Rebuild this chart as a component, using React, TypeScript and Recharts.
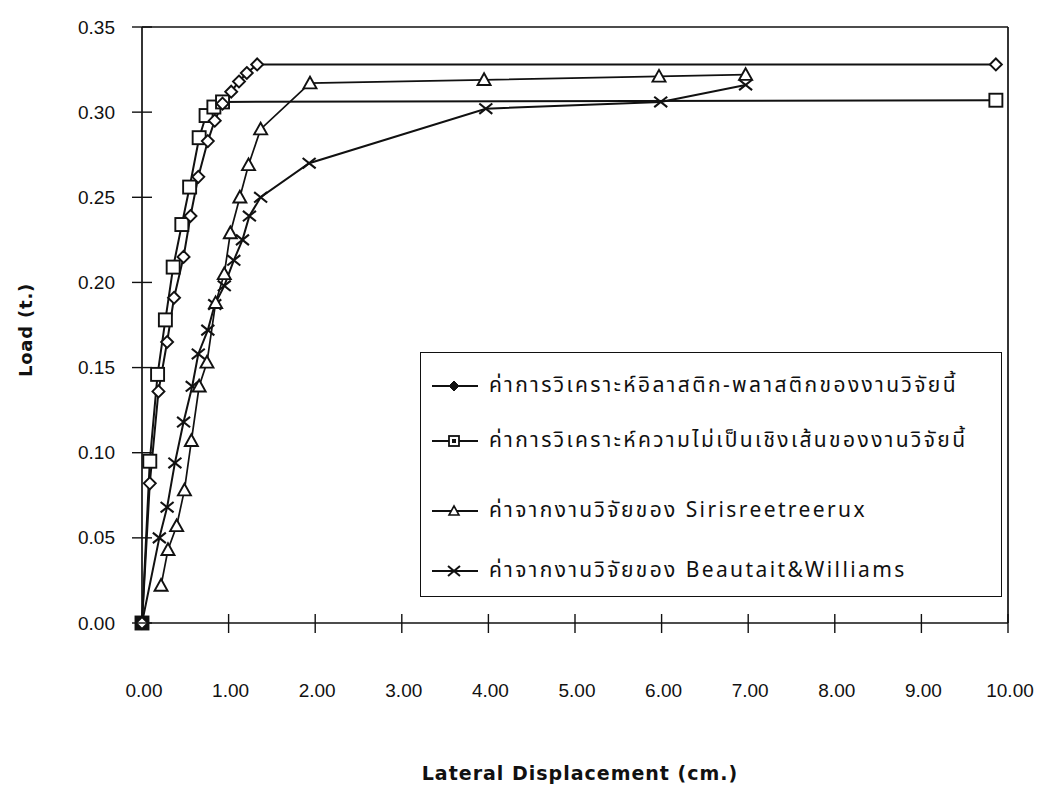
import React from 'react';
import { LineChart, Line, XAxis, YAxis, ReferenceLine, Legend, Label } from 'recharts';

// ---- data (Lateral displacement cm, Load t.) ----
const elasticPlasticX = [0, 0.09, 0.19, 0.29, 0.37, 0.48, 0.56, 0.65, 0.76, 0.84, 0.93, 1.03, 1.12, 1.21, 1.33, 9.86];
const elasticPlasticY = [0, 0.082, 0.136, 0.165, 0.191, 0.215, 0.239, 0.262, 0.283, 0.295, 0.305, 0.312, 0.318, 0.323, 0.328, 0.328];

const nonlinearX = [0, 0.09, 0.18, 0.27, 0.36, 0.46, 0.55, 0.66, 0.74, 0.83, 0.93, 9.86];
const nonlinearY = [0, 0.095, 0.146, 0.178, 0.209, 0.234, 0.256, 0.285, 0.298, 0.303, 0.306, 0.307];

const siriX = [0.22, 0.30, 0.40, 0.49, 0.57, 0.66, 0.75, 0.85, 0.95, 1.02, 1.13, 1.23, 1.37, 1.94, 3.95, 5.97, 6.97];
const siriY = [0.022, 0.043, 0.057, 0.078, 0.107, 0.139, 0.153, 0.188, 0.205, 0.229, 0.250, 0.269, 0.290, 0.317, 0.319, 0.321, 0.322];

const beauX = [0, 0.20, 0.29, 0.38, 0.48, 0.58, 0.65, 0.76, 0.84, 0.95, 1.06, 1.16, 1.24, 1.37, 1.93, 3.97, 5.99, 6.97];
const beauY = [0, 0.050, 0.068, 0.094, 0.118, 0.139, 0.158, 0.172, 0.187, 0.198, 0.213, 0.225, 0.239, 0.250, 0.270, 0.302, 0.306, 0.316];

const xTicks = [0, 1, 2, 3, 4, 5, 6, 7, 8, 9, 10];
const yTicks = [0, 0.05, 0.1, 0.15, 0.2, 0.25, 0.3, 0.35];

const seriesNames = [
  'ค่าการวิเคราะห์อิลาสติก-พลาสติกของงานวิจัยนี้',
  'ค่าการวิเคราะห์ความไม่เป็นเชิงเส้นของงานวิจัยนี้',
  'ค่าจากงานวิจัยของ Sirisreetreerux',
  'ค่าจากงานวิจัยของ Beautait&Williams',
];

const xTitle = 'Lateral Displacement (cm.)';
const yTitle = 'Load (t.)';

const toRows = (xs: number[], ys: number[]) => xs.map((x, i) => ({ x, y: ys[i] }));
const dataEP = toRows(elasticPlasticX, elasticPlasticY);
const dataNL = toRows(nonlinearX, nonlinearY);
const dataSR = toRows(siriX, siriY);
const dataBW = toRows(beauX, beauY);

const INK = '#111';
const LABEL_FONT = "'Liberation Sans', Arial, sans-serif";
const THAI_FONT = "'Noto Sans Thai', 'Noto Sans Thai Looped', 'Loma', 'Garuda', 'Noto Sans', 'DejaVu Sans', sans-serif";

// ---- marker shapes ----
const diamondPath = (cx: number, cy: number, r: number) => `M${cx},${cy - r}L${cx + r},${cy}L${cx},${cy + r}L${cx - r},${cy}Z`;
const trianglePath = (cx: number, cy: number, r: number) => `M${cx},${cy - r}L${cx + r},${cy + r * 0.8}L${cx - r},${cy + r * 0.8}Z`;

const DiamondDot = (p: any) => {
  const { cx, cy, index } = p;
  if (cx == null || cy == null) return <g key={`dd${index}`} />;
  return <path key={`dd${index}`} d={diamondPath(cx, cy, 6)} fill="#fff" stroke={INK} strokeWidth={1.9} />;
};
const SquareDot = (p: any) => {
  const { cx, cy, index } = p;
  if (cx == null || cy == null) return <g key={`sd${index}`} />;
  return <rect key={`sd${index}`} x={cx - 6.5} y={cy - 6.5} width={13} height={13} fill={index === 0 ? INK : '#fff'} stroke={INK} strokeWidth={1.9} />;
};
const TriangleDot = (p: any) => {
  const { cx, cy, index } = p;
  if (cx == null || cy == null) return <g key={`td${index}`} />;
  return <path key={`td${index}`} d={trianglePath(cx, cy, 6.5)} fill="#fff" stroke={INK} strokeWidth={1.9} />;
};
const CrossDot = (p: any) => {
  const { cx, cy, index } = p;
  if (cx == null || cy == null) return <g key={`xd${index}`} />;
  const r = 6.5;
  return (
    <g key={`xd${index}`}>
      <line x1={cx - r} y1={cy - r * 0.8} x2={cx + r} y2={cy + r * 0.8} stroke={INK} strokeWidth={2.1} />
      <line x1={cx - r} y1={cy + r * 0.8} x2={cx + r} y2={cy - r * 0.8} stroke={INK} strokeWidth={2.1} />
    </g>
  );
};

// ---- axis ticks (tick marks cross the axis) ----
const XTick = (p: any) => {
  const { x, y, payload } = p;
  return (
    <g>
      {payload.value !== 0 && <line x1={x} x2={x} y1={y - 9} y2={y + 10} stroke={INK} strokeWidth={1.4} />}
      <text x={x + 2} y={y + 67} textAnchor="middle" dominantBaseline="central" fontSize={19} fontFamily={LABEL_FONT} fill={INK}>
        {Number(payload.value).toFixed(2)}
      </text>
    </g>
  );
};
const YTick = (p: any) => {
  const { x, y, payload } = p;
  return (
    <g>
      <line x1={x - 10} x2={x + 10} y1={y} y2={y} stroke={INK} strokeWidth={1.4} />
      <text x={x - 27} y={y} textAnchor="end" dominantBaseline="central" fontSize={19} fontFamily={LABEL_FONT} fill={INK}>
        {Number(payload.value).toFixed(2)}
      </text>
    </g>
  );
};

const YTitle = (p: any) => {
  const vb = p.viewBox || { x: 0, y: 19, width: 134, height: 596 };
  const cx = vb.x + 17;
  const cy = vb.y + vb.height / 2 + 5;
  return (
    <text x={cx} y={cy} transform={`rotate(-90 ${cx} ${cy})`} textAnchor="middle" dominantBaseline="central" fontSize={18} letterSpacing={0.8} fontWeight="bold" fontFamily="'DejaVu Sans', sans-serif" fill={INK}>
      {yTitle}
    </text>
  );
};
const XTitle = (p: any) => {
  const vb = p.viewBox || { x: 134, y: 615, width: 866, height: 160 };
  return (
    <text x={vb.x + vb.width / 2 + 5} y={vb.y + 150} textAnchor="middle" dominantBaseline="central" fontSize={19} letterSpacing={1} fontWeight="bold" fontFamily="'DejaVu Sans', sans-serif" fill={INK}>
      {xTitle}
    </text>
  );
};

// ---- legend ----
const LegendMarker = ({ i }: { i: number }) => {
  const cx = 23, cy = 12;
  let m: React.ReactNode = null;
  if (i === 0) m = <path d={diamondPath(cx, cy, 5)} fill={INK} stroke={INK} strokeWidth={1} />;
  if (i === 1)
    m = (
      <g>
        <rect x={cx - 5} y={cy - 5} width={10} height={10} fill="#fff" stroke={INK} strokeWidth={1.8} />
        <rect x={cx - 2} y={cy - 2} width={4} height={4} fill={INK} />
      </g>
    );
  if (i === 2) m = <path d={trianglePath(cx, cy, 5)} fill="#fff" stroke={INK} strokeWidth={1.6} />;
  if (i === 3)
    m = (
      <g>
        <line x1={cx - 6} y1={cy - 5} x2={cx + 6} y2={cy + 5} stroke={INK} strokeWidth={2} />
        <line x1={cx - 6} y1={cy + 5} x2={cx + 6} y2={cy - 5} stroke={INK} strokeWidth={2} />
      </g>
    );
  return (
    <svg width={48} height={24} style={{ display: 'block', flex: '0 0 auto' }}>
      <line x1={1} x2={47} y1={cy} y2={cy} stroke={INK} strokeWidth={1.9} />
      {m}
    </svg>
  );
};

const rowOffsets = [33, 88, 158, 218];

const LegendBox = () => (
  <div
    style={{
      boxSizing: 'border-box',
      width: 582,
      height: 245,
      border: `1.6px solid ${INK}`,
      background: '#fff',
      position: 'relative',
    }}
  >
    {seriesNames.map((name, i) => (
      <div key={name} style={{ position: 'absolute', left: 10, top: rowOffsets[i] - 12, height: 24, display: 'flex', alignItems: 'center' }}>
        <LegendMarker i={i} />
        <span style={{ marginLeft: 10, fontFamily: THAI_FONT, fontSize: 21, letterSpacing: '2.4px', color: INK, whiteSpace: 'nowrap', lineHeight: '24px' }}>{name}</span>
      </div>
    ))}
  </div>
);

export default function App() {
  return (
    <div style={{ width: 1030, height: 777, background: '#fff' }}>
      <LineChart width={1030} height={777} margin={{ top: 19, right: 30, left: 0, bottom: 2 }}>
        <XAxis
          dataKey="x"
          type="number"
          domain={[0, 10]}
          ticks={xTicks}
          height={160}
          tickSize={0}
          tickMargin={0}
          tickLine={false}
          tick={<XTick />}
          axisLine={{ stroke: INK, strokeWidth: 1.7 }}
        >
          <Label content={<XTitle />} />
        </XAxis>
        <YAxis
          dataKey="y"
          type="number"
          domain={[0, 0.35]}
          ticks={yTicks}
          width={134}
          tickSize={0}
          tickMargin={0}
          tickLine={false}
          tick={<YTick />}
          axisLine={{ stroke: INK, strokeWidth: 1.7 }}
        >
          <Label content={<YTitle />} />
        </YAxis>
        <ReferenceLine y={0.35} stroke={INK} strokeWidth={1.7} />
        <ReferenceLine x={10} stroke={INK} strokeWidth={1.7} />
        <Legend
          layout="horizontal"
          verticalAlign="middle"
          align="center"
          width={582}
          height={245}
          wrapperStyle={{ left: 412, top: 344, width: 582, height: 245 }}
          content={() => <LegendBox />}
        />
        <Line data={dataBW} dataKey="y" name={seriesNames[3]} stroke={INK} strokeWidth={2} dot={CrossDot} isAnimationActive={false} />
        <Line data={dataSR} dataKey="y" name={seriesNames[2]} stroke={INK} strokeWidth={1.7} dot={TriangleDot} isAnimationActive={false} />
        <Line data={dataNL} dataKey="y" name={seriesNames[1]} stroke={INK} strokeWidth={2} dot={SquareDot} isAnimationActive={false} />
        <Line data={dataEP} dataKey="y" name={seriesNames[0]} stroke={INK} strokeWidth={2} dot={DiamondDot} isAnimationActive={false} />
      </LineChart>
    </div>
  );
}
